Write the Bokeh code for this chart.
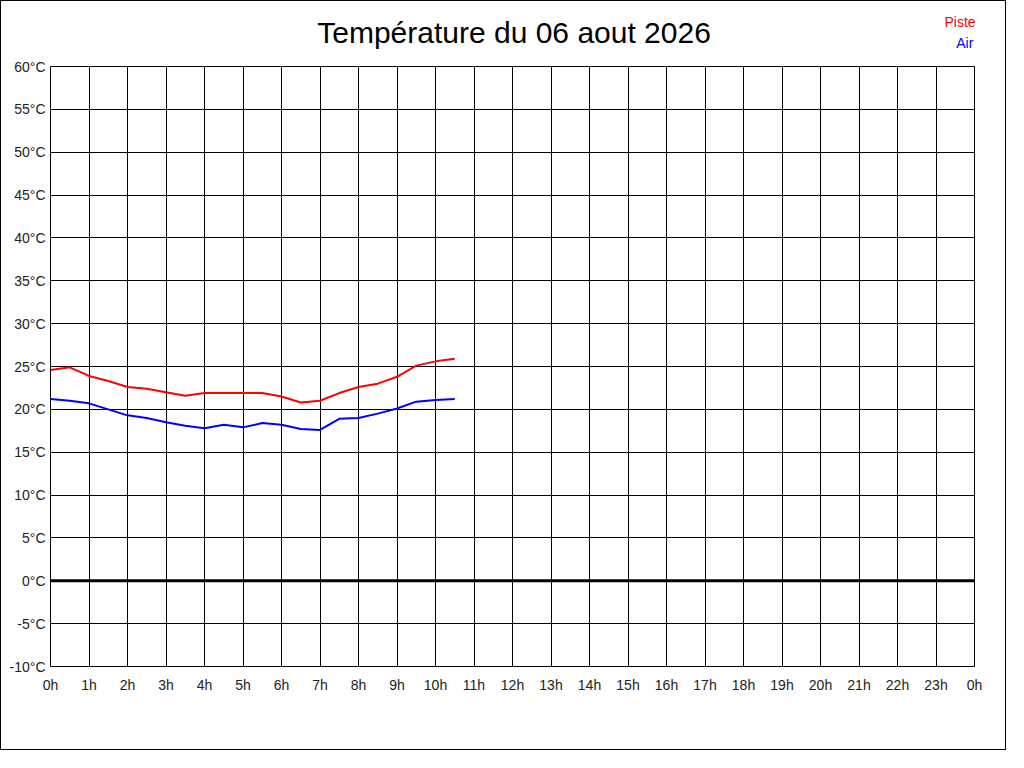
from bokeh.plotting import figure
from bokeh.models import Span, Label, FixedTicker
from bokeh.embed import file_html
from bokeh.resources import INLINE

title_text = "Température du 06 aout 2026"
series_names = ["Piste", "Air"]
series_colors = ["#ff0000", "#0000ff"]

hours = [0, 0.5, 1, 1.5, 2, 2.5, 3, 3.5, 4, 4.5, 5, 5.5,
         6, 6.5, 7, 7.5, 8, 8.5, 9, 9.5, 10, 10.5]
piste = [24.6, 24.9, 23.9, 23.3, 22.6, 22.4, 22.0, 21.6, 21.9, 21.9, 21.9, 21.9,
         21.5, 20.8, 21.0, 21.9, 22.6, 23.0, 23.8, 25.1, 25.6, 25.9]
air = [21.2, 21.0, 20.7, 20.0, 19.3, 19.0, 18.5, 18.1, 17.8, 18.2, 17.9, 18.4,
       18.2, 17.7, 17.6, 18.9, 19.0, 19.5, 20.1, 20.9, 21.1, 21.2]

x_ticks = list(range(0, 25))
x_labels = ["0h", "1h", "2h", "3h", "4h", "5h", "6h", "7h", "8h", "9h", "10h", "11h",
            "12h", "13h", "14h", "15h", "16h", "17h", "18h", "19h", "20h", "21h",
            "22h", "23h", "0h"]
y_ticks = [-10, -5, 0, 5, 10, 15, 20, 25, 30, 35, 40, 45, 50, 55, 60]
y_labels = ["-10°C", "-5°C", "0°C", "5°C", "10°C", "15°C", "20°C", "25°C", "30°C",
            "35°C", "40°C", "45°C", "50°C", "55°C", "60°C"]

FONT = "Liberation Sans"

p = figure(width=1006, height=750, output_backend="svg", toolbar_location=None,
           x_range=(0, 24), y_range=(-10, 60),
           min_border_left=49, min_border_right=33, min_border_top=65, min_border_bottom=85,
           background_fill_color="white", border_fill_color="white")
p.styles = {"border": "1px solid black"}

p.outline_line_color = "black"
p.outline_line_width = 1

for ax in (p.xaxis[0], p.yaxis[0]):
    ax.axis_line_color = None
    ax.major_tick_line_color = None
    ax.minor_tick_line_color = None
    ax.major_tick_out = 0
    ax.major_tick_in = 0
    ax.major_label_text_font = FONT
    ax.major_label_text_font_size = "14px"
    ax.major_label_text_color = "#222222"

p.xaxis.ticker = FixedTicker(ticks=x_ticks)
p.xaxis.major_label_overrides = {t: l for t, l in zip(x_ticks, x_labels)}
p.xaxis.major_label_standoff = 10
p.yaxis.ticker = FixedTicker(ticks=y_ticks)
p.yaxis.major_label_overrides = {t: l for t, l in zip(y_ticks, y_labels)}
p.yaxis.major_label_standoff = 5

p.xgrid.ticker = FixedTicker(ticks=x_ticks)
p.ygrid.ticker = FixedTicker(ticks=y_ticks)
for g in (p.xgrid[0], p.ygrid[0]):
    g.grid_line_color = "black"
    g.grid_line_alpha = 1.0
    g.grid_line_width = 1

p.add_layout(Span(location=0, dimension="width", line_color="black", line_width=3))

p.line(hours, piste, line_color=series_colors[0], line_width=2)
p.line(hours, air, line_color=series_colors[1], line_width=2)

# Texts placed in side panels (not clipped to the frame), positioned in data units
p.add_layout(Label(x=12.04, y=63.95, text=title_text,
                   text_font=FONT, text_font_size="30px", text_color="black",
                   text_align="center", text_baseline="middle"), "above")
p.add_layout(Label(x=24.03, y=65.19, text=series_names[0],
                   text_font=FONT, text_font_size="14px", text_color=series_colors[0],
                   text_align="right", text_baseline="middle"), "below")
p.add_layout(Label(x=23.97, y=62.71, text=series_names[1],
                   text_font=FONT, text_font_size="14px", text_color=series_colors[1],
                   text_align="right", text_baseline="middle"), "below")

open("out.html", "w").write(file_html(p, INLINE))
